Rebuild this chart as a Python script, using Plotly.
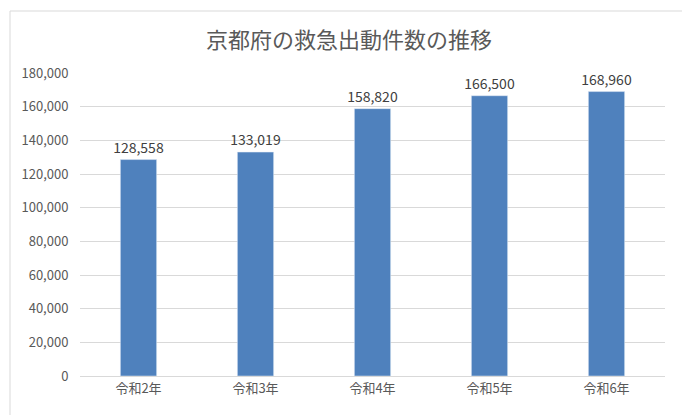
import plotly.graph_objects as go

categories = ["令和2年", "令和3年", "令和4年", "令和5年", "令和6年"]
values = [128558, 133019, 158820, 166500, 168960]
labels = [f"{v:,}" for v in values]

fig = go.Figure(go.Bar(
    x=categories, y=values, text=labels, textposition="outside", constraintext="none",
    marker_color="#4f81bd", width=0.31,
    textfont=dict(size=14, color="#404040"), cliponaxis=False,
))
fig.update_layout(
    width=682, height=407,
    margin=dict(l=72, r=25, t=65, b=39),
    paper_bgcolor="white", plot_bgcolor="white",
    font=dict(family="Noto Sans CJK JP", color="#595959"),
    title=dict(text="京都府の救急出動件数の推移", x=0.5, xanchor="center", y=0.92, yanchor="middle",
               font=dict(size=22, color="#595959")),
    showlegend=False,
    shapes=[dict(type="rect", xref="paper", yref="paper", x0=-70/585, x1=1+22/585, y0=-44/303, y1=1+62/303,
                 line=dict(color="#d9d9d9", width=1))],
)
fig.update_yaxes(range=[0, 180000], dtick=20000, tickformat=",", gridcolor="#d9d9d9",
                 tickfont=dict(size=13, color="#595959"), zeroline=False, ticks="outside", ticklen=8, tickcolor="white")
fig.update_xaxes(showline=True, linecolor="#d9d9d9", tickfont=dict(size=13, color="#595959"))
fig.write_html("out.html")
